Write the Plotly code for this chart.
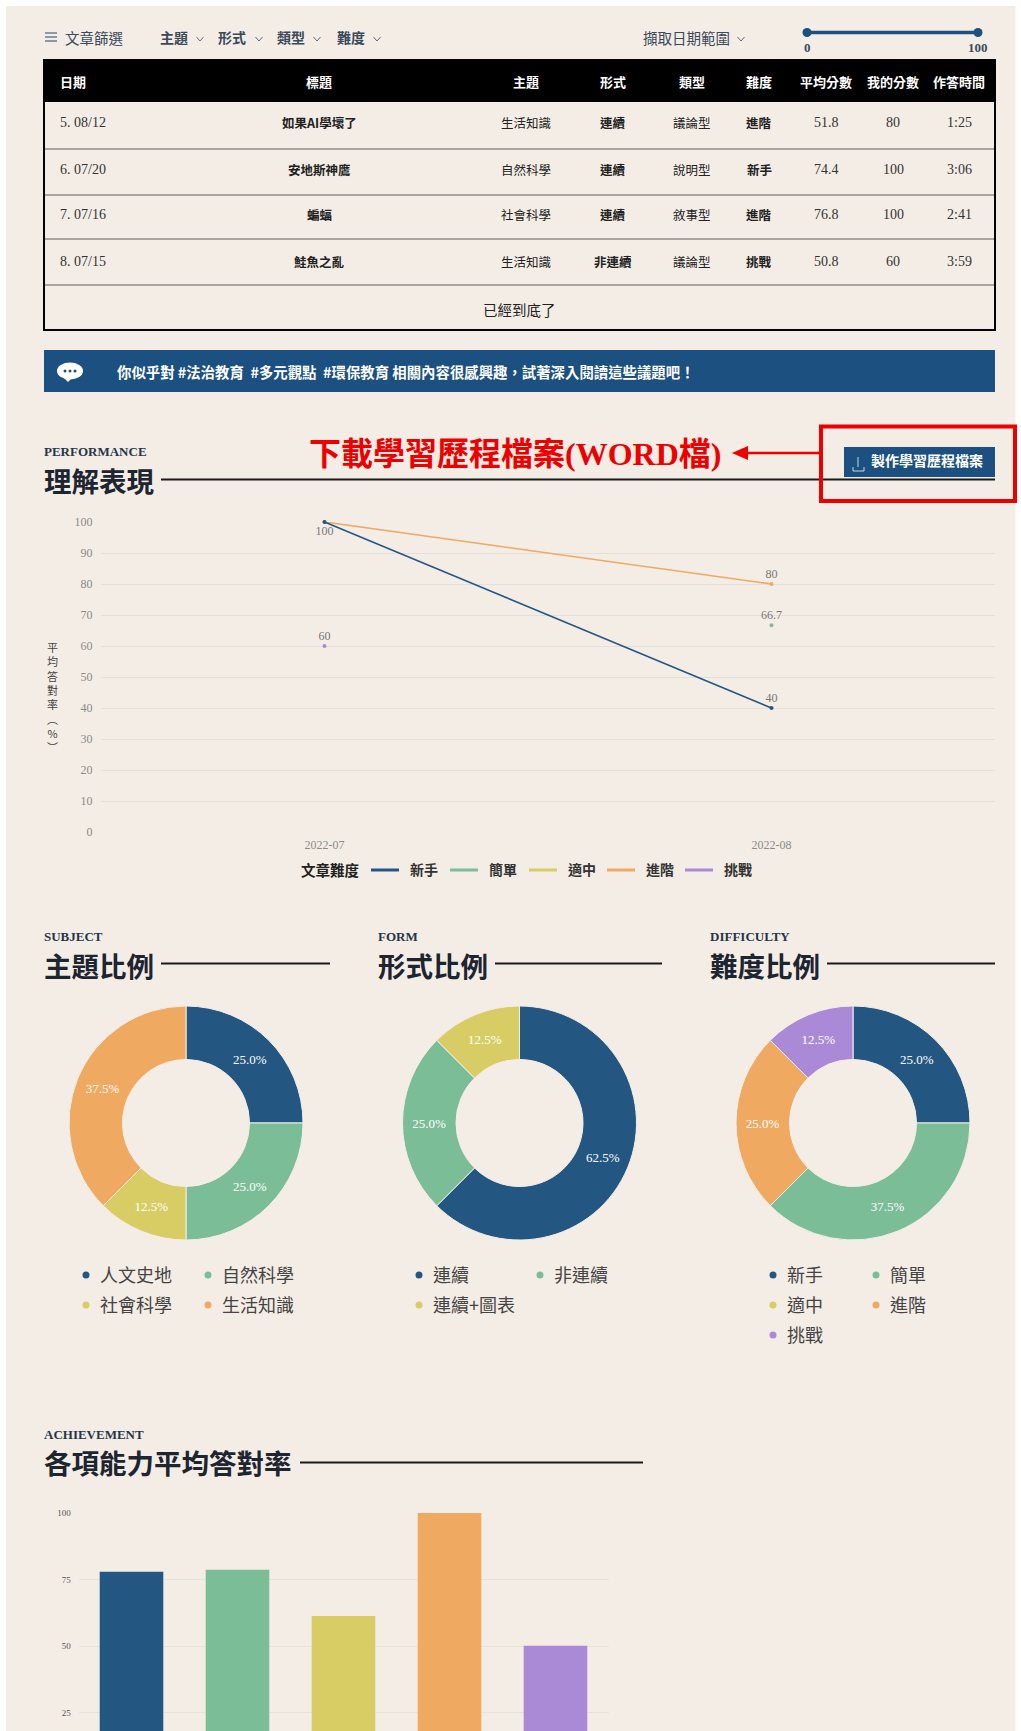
import plotly.graph_objects as go

W, H = 1021, 1731
BG = "#f4ede6"
NAVY = "#235782"
GREEN = "#7bbd97"
YELLOW = "#d8cc65"
ORANGE = "#efa961"
PURPLE = "#aa8ad6"
BANNER = "#1b5080"
SERIF = "'Liberation Serif','Noto Sans CJK TC',serif"
CJK = "'Noto Sans CJK TC','Liberation Serif',serif"

# ---------- data ----------
filter_labels = ["主題", "形式", "類型", "難度"]
table_header = ["日期", "標題", "主題", "形式", "類型", "難度", "平均分數", "我的分數", "作答時間"]
table_dates = ["5. 08/12", "6. 07/20", "7. 07/16", "8. 07/15"]
table_titles = ["如果AI學壞了", "安地斯神鷹", "蝙蝠", "鮭魚之亂"]
table_subjects = ["生活知識", "自然科學", "社會科學", "生活知識"]
table_forms = ["連續", "連續", "連續", "非連續"]
table_types = ["議論型", "說明型", "敘事型", "議論型"]
table_levels = ["進階", "新手", "進階", "挑戰"]
table_avg = ["51.8", "74.4", "76.8", "50.8"]
table_mine = ["80", "100", "100", "60"]
table_time = ["1:25", "3:06", "2:41", "3:59"]

months = ["2022-07", "2022-08"]
novice_months, novice_values, novice_text = months, [100, 40], ["100", "40"]
simple_months, simple_values, simple_text = ["2022-08"], [66.7], ["66.7"]
advanced_months, advanced_values, advanced_text = months, [100, 80], ["", "80"]
challenge_months, challenge_values, challenge_text = ["2022-07"], [60], ["60"]
level_names = ["新手", "簡單", "適中", "進階", "挑戰"]

subject_names = ["人文史地", "自然科學", "社會科學", "生活知識"]
subject_values = [25.0, 25.0, 12.5, 37.5]
form_names = ["連續", "非連續", "連續+圖表"]
form_values = [62.5, 25.0, 12.5]
level_values = [25.0, 37.5, 0.0, 25.0, 12.5]

skill_names = ["能力一", "能力二", "能力三", "能力四", "能力五"]
skill_values = [77.9, 78.7, 61.3, 100, 50.1]

PALETTE = [NAVY, GREEN, YELLOW, ORANGE, PURPLE]

# ---------- helpers ----------
def X(px): return px / W
def Y(px): return 1 - px / H

shapes, notes = [], []

def rect(x0, y0, x1, y1, fill=None, line=None, lw=0, layer="below"):
    shapes.append(dict(type="rect", xref="paper", yref="paper", x0=X(x0), x1=X(x1), y0=Y(y0), y1=Y(y1),
                       fillcolor=fill or "rgba(0,0,0,0)", line=dict(color=line or "rgba(0,0,0,0)", width=lw), layer=layer))

def hline(x0, y0, x1, y1, color, lw, layer="below"):
    shapes.append(dict(type="line", xref="paper", yref="paper", x0=X(x0), x1=X(x1), y0=Y(y0), y1=Y(y1),
                       line=dict(color=color, width=lw), layer=layer))

def ellipse(cx, cy, rx, ry, fill, layer="above"):
    shapes.append(dict(type="circle", xref="paper", yref="paper", x0=X(cx - rx), x1=X(cx + rx), y0=Y(cy - ry), y1=Y(cy + ry),
                       fillcolor=fill, line=dict(width=0), layer=layer))

def circle(cx, cy, r, fill, layer="above"):
    ellipse(cx, cy, r, r, fill, layer)

def path(points, color=None, fill=None, lw=1, close=False):
    d = "M" + " L".join(f"{X(a):.5f},{Y(b):.5f}" for a, b in points) + (" Z" if close else "")
    shapes.append(dict(type="path", xref="paper", yref="paper", path=d, fillcolor=fill or "rgba(0,0,0,0)",
                       line=dict(color=color or "rgba(0,0,0,0)", width=lw), layer="above"))

def text(x, y, s, size=12, color="#333", anchor="center", family=SERIF, bold=False):
    notes.append(dict(xref="paper", yref="paper", x=X(x), y=Y(y), text=f"<b>{s}</b>" if bold else s,
                      showarrow=False, xanchor=anchor, yanchor="middle", xshift=0,
                      font=dict(size=size, color=color, family=family), borderpad=0, borderwidth=0))

def chevron(cx, cy, color="#5a6b7b"):
    path([(cx - 3.5, cy - 2), (cx, cy + 2), (cx + 3.5, cy - 2)], color=color, lw=1)

def section(en, zh, x, y_en, y_zh, line_x0, line_x1, line_y, zh_size=27.5):
    text(x, y_en, en, size=13, color="#25364a", anchor="left", family=SERIF, bold=True)
    text(x, y_zh, zh, size=zh_size, color="#1c2530", anchor="left", family=CJK, bold=True)
    hline(line_x0, line_y, line_x1, line_y, "#1a1a1a", 2)

# ---------- page ----------
rect(6, 6, 1015.5, H + 5, fill=BG)

# filter bar
for yy in (33, 37, 41):
    hline(45, yy, 57, yy, "#5a7590", 1.4, layer="above")
text(65, 37, "文章篩選", size=14.5, color="#3a4a5a", anchor="left", family=CJK)
for lbl, x0, cx in zip(filter_labels, [160, 218, 277, 337], [200, 259, 317, 377]):
    text(x0, 37, lbl, size=14, color="#3a4a5a", anchor="left", family=CJK, bold=True)
    chevron(cx, 39)
text(643, 37, "擷取日期範圍", size=14.5, color="#3a4a5a", anchor="left", family=CJK)
chevron(741, 39)
hline(807, 32.5, 978, 32.5, BANNER, 3.5, layer="above")
circle(807, 32.5, 4.5, BANNER)
circle(978, 32.5, 4.5, BANNER)
text(807, 47, "0", size=13, color="#3a4a5a", family=SERIF, bold=True)
text(978, 47, "100", size=13, color="#3a4a5a", family=SERIF, bold=True)

# table
rect(44, 60, 995, 102, fill="#000000")
rect(44, 60, 995, 330, line="#000000", lw=2, layer="above")
for yy in (149, 195, 239, 285):
    hline(45, yy, 994, yy, "#a8a5a0", 2)
col_x = [60, 319, 526, 613, 692, 759, 826, 893, 959]
row_y = [123, 169, 215, 261]
columns = [table_dates, table_titles, table_subjects, table_forms, table_types, table_levels, table_avg, table_mine, table_time]
for i, (cx, head) in enumerate(zip(col_x, table_header)):
    text(cx, 81, head, size=13, color="#ffffff", anchor="left" if i == 0 else "center", family=CJK, bold=True)
    for cy, val in zip(row_y, columns[i]):
        is_num = i in (0, 6, 7, 8)
        text(cx, cy, val, size=14 if is_num else 12.5, color="#333333" if is_num else "#222222",
             anchor="left" if i == 0 else "center", family=SERIF if is_num else CJK, bold=i in (1, 3, 5))
text(519, 309, "已經到底了", size=14.5, color="#222222", family=CJK)

# banner
rect(44, 350, 995, 392, fill=BANNER)
ellipse(70, 371, 13, 8.5, "#ffffff")
path([(64, 378), (68, 382), (72, 378)], fill="#ffffff", close=True)
for dx in (-5, 0, 5):
    circle(70 + dx, 371, 1.5, BANNER)
text(117, 372, "你似乎對 #法治教育  #多元觀點  #環保教育 相關內容很感興趣，試著深入閱讀這些議題吧！",
     size=14.4, color="#ffffff", anchor="left", family=CJK, bold=True)

# performance header
section("PERFORMANCE", "理解表現", 44, 452, 480, 161, 995, 479.5)
rect(844, 447, 995, 477, fill=BANNER, layer="above")
path([(858, 457), (858, 467)], color="#c9d6e2", lw=1)
path([(853, 467), (853, 471), (864, 471), (864, 467)], color="#c9d6e2", lw=1)
text(871, 460, "製作學習歷程檔案", size=14, color="#ffffff", anchor="left", family=CJK, bold=True)
text(309, 454, "下載學習歷程檔案(WORD檔)", size=32, color="#ee0000", anchor="left", family=SERIF, bold=True)
hline(744, 453, 821, 453, "#ee0000", 2.5, layer="above")
path([(732, 453), (748, 446), (748, 460)], fill="#ee0000", close=True)
rect(821, 426.5, 1015, 501, line="#ee0000", lw=4, layer="above")

# vertical axis title
notes.append(dict(xref="paper", yref="paper", x=X(52), y=Y(697), text="<br>".join("平均答對率︵%︶"),
                  showarrow=False, xanchor="center", yanchor="middle", align="center",
                  font=dict(size=11, color="#444", family=CJK)))

# line-chart legend
text(301, 869, "文章難度", size=14.5, color="#222", anchor="left", family=CJK, bold=True)
for name, color, lx in zip(level_names, PALETTE, [371, 450, 529, 607, 685]):
    hline(lx, 870, lx + 28, 870, color, 3)
    text(lx + 39, 869, name, size=14, color="#333", anchor="left", family=CJK, bold=True)

# donut headers + legends
section("SUBJECT", "主題比例", 44, 937, 965, 161, 330, 963.5)
section("FORM", "形式比例", 378, 937, 965, 495, 662, 963.5)
section("DIFFICULTY", "難度比例", 710, 937, 965, 827, 995, 963.5)

def dot_legend(names, colors, dot_x, row_ys=(1275, 1305, 1335)):
    for i, (n, c) in enumerate(zip(names, colors)):
        cx = dot_x[i % 2]
        cy = row_ys[i // 2]
        circle(cx, cy, 3.5, c)
        text(cx + 13.5, cy - 1, n, size=18, color="#444444", anchor="left", family=CJK)

dot_legend(subject_names, PALETTE, (86, 208))
dot_legend(form_names, PALETTE, (419, 540))
dot_legend(level_names, PALETTE, (773, 876))

# achievement header
section("ACHIEVEMENT", "各項能力平均答對率", 44, 1434, 1462, 300, 643, 1462.5)

# ---------- traces ----------
fig = go.Figure()

def line_trace(xs, ys, labels, color, positions="top center"):
    fig.add_trace(go.Scatter(x=xs, y=ys, text=labels, mode="lines+markers+text", xaxis="x", yaxis="y",
                             line=dict(color=color, width=1.6), marker=dict(color=color, size=4),
                             textposition=positions, textfont=dict(size=12, color="#777", family=SERIF),
                             cliponaxis=False, showlegend=False, hoverinfo="skip"))

line_trace(advanced_months, advanced_values, advanced_text, ORANGE)
line_trace(novice_months, novice_values, novice_text, NAVY, ["bottom center", "top center"])
line_trace(simple_months, simple_values, simple_text, GREEN)
line_trace(challenge_months, challenge_values, challenge_text, PURPLE)

def donut(values, names, colors, cx, cy=1123, r=117):
    fig.add_trace(go.Pie(values=values, labels=names, hole=0.543, sort=False, direction="clockwise", rotation=0,
                         domain=dict(x=[X(cx - r), X(cx + r)], y=[Y(cy + r), Y(cy - r)]),
                         marker=dict(colors=colors, line=dict(color=BG, width=1)),
                         texttemplate="%{percent:.1%}", textposition="inside", insidetextorientation="horizontal",
                         textfont=dict(size=13, color="#ffffff", family=SERIF),
                         showlegend=False, hoverinfo="skip", automargin=False))

donut(subject_values, subject_names, PALETTE, 186)
donut(form_values, form_names, PALETTE, 519.5)
donut(level_values, level_names, PALETTE, 853)

fig.add_trace(go.Bar(x=skill_names, y=skill_values, marker=dict(color=PALETTE, line=dict(width=0)), width=0.6,
                     xaxis="x2", yaxis="y2", showlegend=False, hoverinfo="skip"))

axis_font = dict(size=12, color="#8a8a86", family=SERIF)
fig.update_layout(
    template="none",
    width=W, height=H, autosize=False,
    margin=dict(l=0, r=0, t=0, b=0, pad=0),
    paper_bgcolor="#ffffff", plot_bgcolor="rgba(0,0,0,0)",
    shapes=shapes, annotations=notes,
    xaxis=dict(type="category", categoryorder="array", categoryarray=months, range=[-0.5, 1.5], automargin=False,
               domain=[X(101), X(995)], anchor="y", showgrid=False, zeroline=False, showline=False,
               ticks="outside", ticklen=2, tickcolor="rgba(0,0,0,0)", tickfont=axis_font),
    yaxis=dict(range=[0, 100], domain=[Y(832), Y(522)], anchor="x", tickvals=list(range(0, 101, 10)), automargin=False,
               gridcolor="#e2e0d9", gridwidth=1, zeroline=False, showline=False,
               ticks="outside", ticklen=5, tickcolor="rgba(0,0,0,0)", tickfont=axis_font),
    xaxis2=dict(type="category", categoryorder="array", categoryarray=skill_names, range=[-0.5, 4.5], automargin=False,
                domain=[X(78.5), X(608.5)], anchor="y2", showgrid=False, zeroline=False, showline=False,
                showticklabels=False, ticks=""),
    yaxis2=dict(range=[18.05, 100], domain=[0, Y(1513)], anchor="x2", tickvals=[25, 50, 75, 100], automargin=False,
                gridcolor="#e6e3dc", gridwidth=1, zeroline=False, showline=False,
                ticks="outside", ticklen=5, tickcolor="rgba(0,0,0,0)",
                tickfont=dict(size=9, color="#555", family=SERIF)),
)

fig.write_html("out.html", config=dict(displayModeBar=False),
               post_script="document.body.style.margin='0';document.body.style.overflow='hidden';")
